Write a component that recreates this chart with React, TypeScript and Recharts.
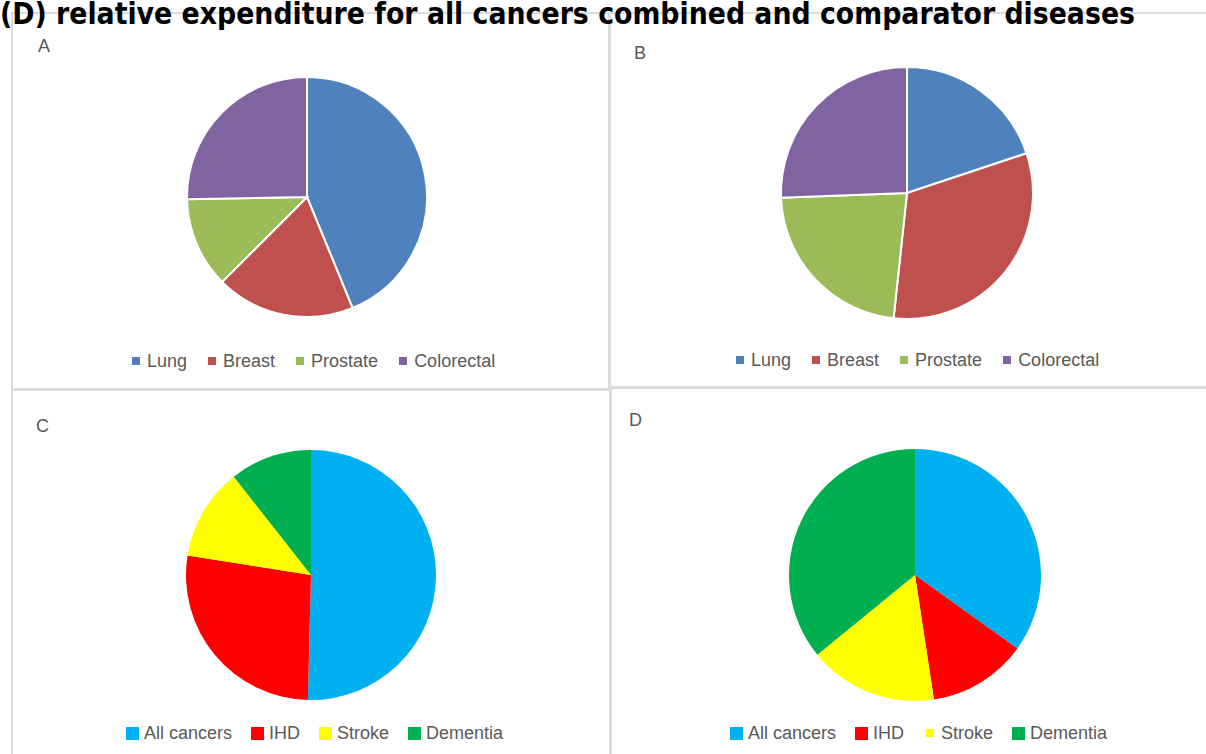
import React from 'react';
import { PieChart, Pie, Cell, Legend } from 'recharts';

// ---- data ----
const cancerSites = ['Lung', 'Breast', 'Prostate', 'Colorectal'];
const panelAValues = [43.8, 18.7, 12.2, 25.3];
const panelBValues = [19.9, 31.8, 22.7, 25.6];

const diseases = ['All cancers', 'IHD', 'Stroke', 'Dementia'];
const panelCValues = [50.4, 27.1, 11.9, 10.6];
const panelDValues = [34.9, 12.7, 16.5, 35.9];

const panelLabels = ['A', 'B', 'C', 'D'];
const titleText = '(D) relative expenditure for all cancers combined and comparator diseases';

// ---- styles ----
const siteColors = ['#4F81BD', '#C0504D', '#9BBB59', '#8064A2'];
const diseaseColors = ['#00B0F0', '#FF0000', '#FFFF00', '#00B050'];
const FONT = '"Liberation Sans", Arial, sans-serif';
const TEXT = '#595959';
const BORDER = '#dcdcdc';
const BW = 2;

type PanelProps = {
  left: number; top: number; width: number; height: number;
  label: string; labelX: number; labelY: number;
  names: string[]; values: number[]; colors: string[];
  cx: number; cy: number; r: number;
  stroke: string; strokeWidth: number;
  legendLeft: number; legendTop: number;
  squareSize: number; smallSquares?: string[]; textGap: number; itemGap: number;
};

function Panel(p: PanelProps) {
  const data = p.names.map((name, i) => ({ name, value: p.values[i], fill: p.colors[i] }));
  const renderLegend = (props: any) => {
    const payload = [...(props.payload || [])].sort(
      (a: any, b: any) => p.names.indexOf(a.value) - p.names.indexOf(b.value)
    );
    return (
      <div style={{ display: 'flex', alignItems: 'center', fontFamily: FONT, fontSize: 18, lineHeight: '20px', color: TEXT, whiteSpace: 'nowrap' }}>
        {payload.map((e: any, i: number) => {
          const name = e.value;
          const idx = p.names.indexOf(name);
          const color = idx >= 0 ? p.colors[idx] : e.color;
          const sq = p.smallSquares && p.smallSquares.includes(name) ? 8 : p.squareSize;
          return (
            <span key={i} style={{ display: 'flex', alignItems: 'center', marginRight: i < payload.length - 1 ? p.itemGap : 0 }}>
              <span style={{ display: 'inline-block', width: sq, height: sq, background: color, marginRight: p.textGap + (p.squareSize - sq) / 2, marginLeft: (p.squareSize - sq) / 2 }} />
              <span>{name}</span>
            </span>
          );
        })}
      </div>
    );
  };
  return (
    <div style={{ position: 'absolute', left: p.left, top: p.top, width: p.width, height: p.height, border: `${BW}px solid ${BORDER}`, boxSizing: 'border-box', background: '#fff' }}>
      <div style={{ position: 'absolute', left: -BW, top: -BW, width: p.width, height: p.height }}>
        <PieChart width={p.width} height={p.height} margin={{ top: 0, right: 0, bottom: 0, left: 0 }}>
          <Pie
            data={data}
            dataKey="value"
            nameKey="name"
            cx={p.cx}
            cy={p.cy}
            outerRadius={p.r}
            innerRadius={0}
            startAngle={90}
            endAngle={-270}
            stroke={p.stroke}
            strokeWidth={p.strokeWidth}
            legendType="square"
            isAnimationActive={false}
          >
            {data.map((d, i) => (
              <Cell key={i} fill={d.fill} stroke={p.stroke} strokeWidth={p.strokeWidth} />
            ))}
          </Pie>
          <Legend
            content={renderLegend}
            wrapperStyle={{ position: 'absolute', left: p.legendLeft, top: p.legendTop, width: 'auto', height: 'auto', bottom: 'auto', right: 'auto' }}
          />
        </PieChart>
        <svg width={p.width} height={p.height} style={{ position: 'absolute', left: 0, top: 0, pointerEvents: 'none' }}>
          <text x={p.labelX} y={p.labelY} fontFamily={FONT} fontSize={18} fill={TEXT}>{p.label}</text>
        </svg>
      </div>
    </div>
  );
}

export default function App() {
  return (
    <div style={{ position: 'absolute', left: 0, top: 0, width: 1206, height: 754, overflow: 'hidden', background: '#fff' }}>
      <Panel left={11} top={12} width={599} height={378} label={panelLabels[0]} labelX={27} labelY={40}
        names={cancerSites} values={panelAValues} colors={siteColors}
        cx={296} cy={185} r={120} stroke="#ffffff" strokeWidth={2}
        legendLeft={121} legendTop={339} squareSize={8} textGap={7} itemGap={21} />
      <Panel left={609} top={12} width={600} height={376} label={panelLabels[1]} labelX={25} labelY={47}
        names={cancerSites} values={panelBValues} colors={siteColors}
        cx={298} cy={181} r={126} stroke="#ffffff" strokeWidth={2}
        legendLeft={127} legendTop={338} squareSize={8} textGap={7} itemGap={21} />
      <Panel left={11} top={389} width={600} height={370} label={panelLabels[2]} labelX={25} labelY={43}
        names={diseases} values={panelCValues} colors={diseaseColors}
        cx={300} cy={186} r={125} stroke="none" strokeWidth={0}
        legendLeft={115} legendTop={334} squareSize={13} textGap={5} itemGap={19} />
      <Panel left={610} top={387} width={600} height={370} label={panelLabels[3]} labelX={19} labelY={39}
        names={diseases} values={panelDValues} colors={diseaseColors}
        cx={305} cy={188} r={126} stroke="none" strokeWidth={0}
        legendLeft={120} legendTop={336} squareSize={13} smallSquares={['Stroke']} textGap={5} itemGap={19} />
      <svg width={1206} height={40} style={{ position: 'absolute', left: 0, top: 0, pointerEvents: 'none' }}>
        <text x={0} y={24} fontFamily='"DejaVu Sans Condensed", "DejaVu Sans", sans-serif' fontWeight="bold" fontSize={30}
          textLength={1135} lengthAdjust="spacingAndGlyphs" fill="#000">{titleText}</text>
      </svg>
    </div>
  );
}
